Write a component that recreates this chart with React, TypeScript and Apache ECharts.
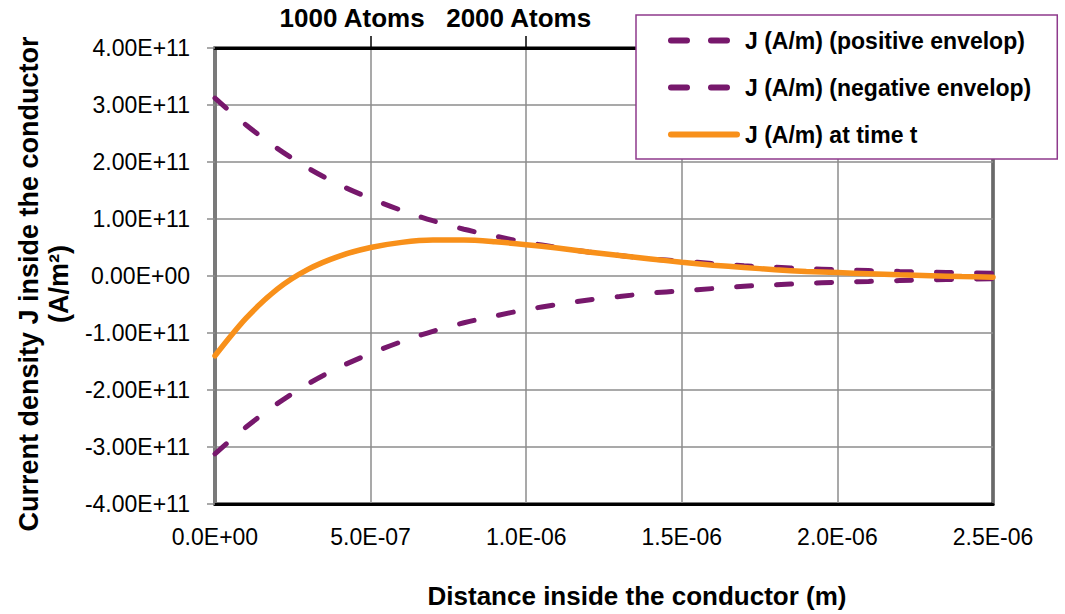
import React, { useEffect, useRef } from "react";
import * as echarts from "echarts";

// Distance inside the conductor (m)
const distance = [
  0, 0.1e-6, 0.2e-6, 0.3e-6, 0.4e-6, 0.5e-6, 0.6e-6, 0.7e-6, 0.8e-6, 0.9e-6,
  1.0e-6, 1.1e-6, 1.2e-6, 1.3e-6, 1.4e-6, 1.5e-6, 1.6e-6, 1.7e-6, 1.8e-6, 1.9e-6,
  2.0e-6, 2.1e-6, 2.2e-6, 2.3e-6, 2.4e-6, 2.5e-6,
];
// J (A/m) positive envelope
const positiveEnvelop = [
  3.12e11, 2.65e11, 2.24e11, 1.89e11, 1.6e11, 1.36e11, 1.15e11, 0.97e11, 0.82e11, 0.7e11,
  0.59e11, 0.5e11, 0.42e11, 0.36e11, 0.3e11, 0.26e11, 0.22e11, 0.18e11, 0.155e11, 0.13e11,
  0.11e11, 0.095e11, 0.08e11, 0.068e11, 0.057e11, 0.048e11,
];
// J (A/m) negative envelope
const negativeEnvelop = [
  -3.12e11, -2.65e11, -2.24e11, -1.89e11, -1.6e11, -1.36e11, -1.15e11, -0.97e11, -0.82e11, -0.7e11,
  -0.59e11, -0.5e11, -0.42e11, -0.36e11, -0.3e11, -0.26e11, -0.22e11, -0.18e11, -0.155e11, -0.13e11,
  -0.11e11, -0.095e11, -0.08e11, -0.068e11, -0.057e11, -0.048e11,
];
// J (A/m) at time t
const jAtTime = [
  -1.4e11, -0.74e11, -0.23e11, 0.12e11, 0.35e11, 0.5e11, 0.59e11, 0.63e11, 0.63e11, 0.6e11,
  0.55e11, 0.49e11, 0.42e11, 0.36e11, 0.3e11, 0.24e11, 0.19e11, 0.15e11, 0.11e11, 0.08e11,
  0.06e11, 0.04e11, 0.02e11, 0.005e11, -0.01e11, -0.02e11,
];
// Secondary (top) axis annotations
const atomTickValues = [5e-7, 1e-6];
const atomTickLabels = ["1000 Atoms", "2000 Atoms"];

const seriesNames = [
  "J (A/m) (positive envelop)",
  "J (A/m) (negative envelop)",
  "J (A/m) at time t",
];

function sci(v: number, d: number): string {
  const s = v.toExponential(d);
  const [m, e] = s.split("e");
  const sign = e[0] === "-" ? "-" : "+";
  const digits = e.replace(/^[+-]/, "").padStart(2, "0");
  return m + "E" + sign + digits;
}

const PURPLE = "#77186c";
const ORANGE = "#f8901a";
const GRID = "#8c8c8c";
const SANS = "'Liberation Sans', Arial, sans-serif";

// legend icons (72 x 6 box): two rounded dashes / one rounded bar
const DASH_ICON =
  "path://M3,0 H19 A3,3 0 0 1 19,6 H3 A3,3 0 0 1 3,0 Z " +
  "M43,0 H59 A3,3 0 0 1 59,6 H43 A3,3 0 0 1 43,0 Z " +
  "M71.98,2.99 L72,3 L71.98,3.01 Z M0,2.99 L0.02,3 L0,3.01 Z";
const BAR_ICON = "path://M3,0 H69 A3,3 0 0 1 69,6 H3 A3,3 0 0 1 3,0 Z";

export default function App() {
  const ref = useRef<HTMLDivElement>(null);
  useEffect(() => {
    if (!ref.current) return;
    const chart = echarts.init(ref.current, null, { renderer: "svg" });
    const pair = (ys: number[]) => distance.map((x, i) => [x, ys[i]]);
    const dashed = {
      color: PURPLE,
      width: 5,
      type: [15, 25] as any,
      cap: "round" as const,
    };
    chart.setOption({
      animation: false,
      backgroundColor: "#ffffff",
      textStyle: { fontFamily: SANS },
      grid: {
        left: 215,
        right: 72,
        top: 48,
        bottom: 106,
        show: true,
        borderColor: "#000",
        borderWidth: 3,
        backgroundColor: "transparent",
      },
      legend: {
        orient: "vertical",
        left: 636,
        top: 15,
        padding: [14, 26, 13, 32],
        itemWidth: 72,
        itemHeight: 6,
        itemGap: 24,
        itemTextGap: 12,
        symbolKeepAspect: false,
        backgroundColor: "#fff",
        borderColor: "#8e3a8c",
        borderWidth: 1.5,
        borderRadius: 0,
        textStyle: {
          fontFamily: SANS,
          fontWeight: "bold",
          fontSize: 23,
          lineHeight: 23,
          color: "#000",
        },
        data: [
          { name: seriesNames[0], icon: DASH_ICON, itemStyle: { color: PURPLE, borderWidth: 0 } },
          { name: seriesNames[1], icon: DASH_ICON, itemStyle: { color: PURPLE, borderWidth: 0 } },
          { name: seriesNames[2], icon: BAR_ICON, itemStyle: { color: ORANGE, borderWidth: 0 } },
        ],
        z: 10,
      },
      xAxis: [
        {
          type: "value",
          position: "bottom",
          min: 0,
          max: 2.5e-6,
          interval: 5e-7,
          axisLine: { show: true, onZero: false, lineStyle: { color: "#000", width: 3 } },
          axisTick: { show: false },
          splitLine: { show: true, lineStyle: { color: GRID, width: 1.5 } },
          axisLabel: {
            margin: 21,
            fontFamily: SANS,
            fontSize: 23,
            color: "#000",
            formatter: (v: number) => sci(v, 1),
          },
          name: "Distance inside the conductor (m)",
          nameLocation: "middle",
          nameGap: 79,
          nameTextStyle: {
            fontFamily: SANS,
            fontWeight: "bold",
            fontSize: 26,
            color: "#000",
            padding: [0, 0, 0, 66],
          },
        },
        {
          type: "value",
          position: "top",
          min: 0,
          max: 2.5e-6,
          interval: 5e-7,
          axisLine: { show: true, onZero: false, lineStyle: { color: "#000", width: 3 } },
          axisTick: {
            show: true,
            length: 12,
            customValues: atomTickValues,
            lineStyle: { color: "#000", width: 1.5 },
          },
          splitLine: { show: false },
          axisLabel: {
            show: true,
            margin: 17,
            customValues: atomTickValues,
            formatter: (v: number) => {
              const i = atomTickValues.findIndex((t) => Math.abs(t - v) < 1e-9);
              if (i === 0) return "{a|" + atomTickLabels[0] + "}";
              if (i === 1) return "{b|" + atomTickLabels[1] + "}";
              return "";
            },
            rich: {
              a: {
                fontFamily: SANS,
                fontWeight: "bold",
                fontSize: 26,
                color: "#000",
                padding: [0, 37, 0, 0],
              },
              b: {
                fontFamily: SANS,
                fontWeight: "bold",
                fontSize: 26,
                color: "#000",
                padding: [0, 15, 0, 0],
              },
            },
          },
        },
      ],
      yAxis: {
        type: "value",
        min: -4e11,
        max: 4e11,
        interval: 1e11,
        axisLine: { show: true, onZero: false, lineStyle: { color: "#7a7a7a", width: 4 } },
        axisTick: { show: true, length: 8, lineStyle: { color: "#8c8c8c", width: 1.5 } },
        splitLine: { show: true, lineStyle: { color: GRID, width: 1.5 } },
        axisLabel: {
          margin: 25,
          fontFamily: SANS,
          fontSize: 23,
          color: "#000",
          formatter: (v: number) => sci(v, 2),
        },
        name: "Current density J inside the conductor\n(A/m²)",
        nameLocation: "middle",
        nameGap: 136,
        nameTextStyle: {
          fontFamily: SANS,
          fontWeight: "bold",
          fontSize: 27,
          lineHeight: 30,
          color: "#000",
          align: "center",
          padding: [0, 16, 0, 0],
        },
      },
      series: [
        {
          name: seriesNames[0],
          type: "line",
          data: pair(positiveEnvelop),
          smooth: 0.3,
          symbol: "none",
          showSymbol: false,
          lineStyle: dashed,
          itemStyle: { color: PURPLE },
          z: 3,
        },
        {
          name: seriesNames[1],
          type: "line",
          data: pair(negativeEnvelop),
          smooth: 0.3,
          symbol: "none",
          showSymbol: false,
          lineStyle: dashed,
          itemStyle: { color: PURPLE },
          z: 3,
        },
        {
          name: seriesNames[2],
          type: "line",
          data: pair(jAtTime),
          smooth: 0.3,
          symbol: "none",
          showSymbol: false,
          lineStyle: { color: ORANGE, width: 5.5, cap: "round" },
          itemStyle: { color: ORANGE },
          z: 4,
        },
      ],
    });
    return () => chart.dispose();
  }, []);
  return (
    <div
      ref={ref}
      style={{ position: "fixed", left: 0, top: 0, width: 1065, height: 614 }}
    />
  );
}
